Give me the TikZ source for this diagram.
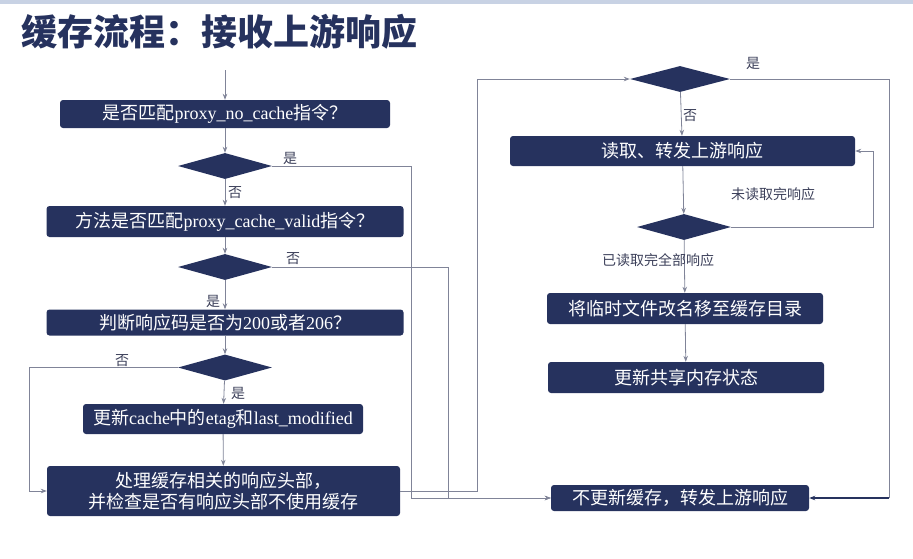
\documentclass[tikz,border=0pt]{standalone}
\usepackage{fontspec}
\setmainfont{Liberation Serif}
\newfontfamily\cjk{Noto Sans CJK SC}
\usetikzlibrary{shapes.geometric,arrows.meta}
\definecolor{navy}{RGB}{38,50,94}
\definecolor{linegray}{RGB}{128,132,152}
\definecolor{taggray}{RGB}{60,64,90}
\definecolor{topbar}{RGB}{200,210,228}
\newcommand{\en}[1]{{\rmfamily #1}}

\begin{document}
\begin{tikzpicture}[x=1pt,y=-1pt,
    box/.style={fill=navy, rounded corners=3pt, text=white, inner sep=0pt, align=center,
      font=\cjk\fontsize{18}{21}\selectfont},
    choice/.style={diamond, fill=navy, inner sep=0pt, minimum width=94pt, minimum height=26pt},
    wire/.style={draw=linegray, line width=0.8pt},
    flow/.style={wire, -{Stealth[length=6pt,width=4.5pt]}},
    tag/.style={text=taggray, inner sep=0pt, font=\cjk\fontsize{14}{16}\selectfont}]
    \useasboundingbox (0,0) rectangle (913,558);
    \fill[topbar] (0,0) rectangle (913,4);
    \node[anchor=west, text=navy, font=\cjk\bfseries\fontsize{36}{40}\selectfont] (title) at (18,32) {缓存流程：接收上游响应};

    \node[box, minimum width=330pt, minimum height=28pt] (match) at (225,114) {是否匹配\en{proxy\_no\_cache}指令？};
    \node[choice] (nocache) at (225,166) {};
    \node[box, minimum width=357pt, minimum height=31pt] (method) at (225,221.5) {方法是否匹配\en{proxy\_cache\_valid}指令？};
    \node[choice] (valid) at (225,267) {};
    \node[box, minimum width=357pt, minimum height=26pt] (status) at (225,322.5) {判断响应码是否为\en{200}或者\en{206}？};
    \node[choice] (code) at (225,367.5) {};
    \node[box, minimum width=280pt, minimum height=30pt] (etag) at (223,419) {更新\en{cache}中的\en{etag}和\en{last\_modified}};
    \node[box, minimum width=353pt, minimum height=50pt] (headers) at (223.5,491) {处理缓存相关的响应头部，\\并检查是否有响应头部不使用缓存};

    \node[choice, minimum width=100pt] (usecache) at (680,79) {};
    \node[box, minimum width=345pt, minimum height=30pt] (read) at (682.5,151) {读取、转发上游响应};
    \node[choice] (done) at (684,227) {};
    \node[box, minimum width=276pt, minimum height=31pt] (rename) at (685,308.5) {将临时文件改名移至缓存目录};
    \node[box, minimum width=276pt, minimum height=31pt] (shm) at (686,377.5) {更新共享内存状态};
    \node[box, minimum width=258pt, minimum height=26pt] (pass) at (680,498) {不更新缓存，转发上游响应};

    \coordinate (start) at (225,70);
    \coordinate (skipA) at (411,498);
    \coordinate (skipB) at (448,498);
    \coordinate (back) at (29,491);
    \coordinate (rise) at (477,79);
    \coordinate (fall) at (889,498);
    \coordinate (again) at (873,151);

    \draw[flow] (start) -- (match);
    \draw[flow] (match) -- (nocache);
    \draw[flow] (nocache) -- (method);
    \draw[flow] (method) -- (valid);
    \draw[flow] (valid) -- (status);
    \draw[flow] (status) -- (code);
    \draw[flow] (code) -- (etag);
    \draw[flow] (etag) -- (headers);
    \draw[flow] (code.west) -| (back) -- (headers.west);
    \draw[flow] (nocache.east) -| (skipA) -- (pass.west);
    \draw[flow] (valid.east) -| (skipB) -- (pass.west);
    \draw[flow] (headers.east) -| (rise) -- (usecache.west);

    \draw[flow] (usecache) -- (read);
    \draw[flow] (read) -- (done);
    \draw[flow] (done.east) -| (again) -- (read.east);
    \draw[flow] (done) -- (rename);
    \draw[flow] (rename) -- (shm);
    \draw[wire] (usecache.east) -| (fall);
    \draw[flow, draw=navy, line width=1.6pt] (fall) -- (pass.east);

    \node[tag] (yesA) at (290,158) {是};
    \node[tag] (noA) at (235,193) {否};
    \node[tag] (noB) at (293,259) {否};
    \node[tag] (yesB) at (213,301) {是};
    \node[tag] (noC) at (122,361) {否};
    \node[tag] (yesC) at (238,393) {是};
    \node[tag] (yesD) at (753,63) {是};
    \node[tag] (noD) at (690,116) {否};
    \node[tag] (partial) at (773,194) {未读取完响应};
    \node[tag] (complete) at (658,260) {已读取完全部响应};
\end{tikzpicture}
\end{document}
